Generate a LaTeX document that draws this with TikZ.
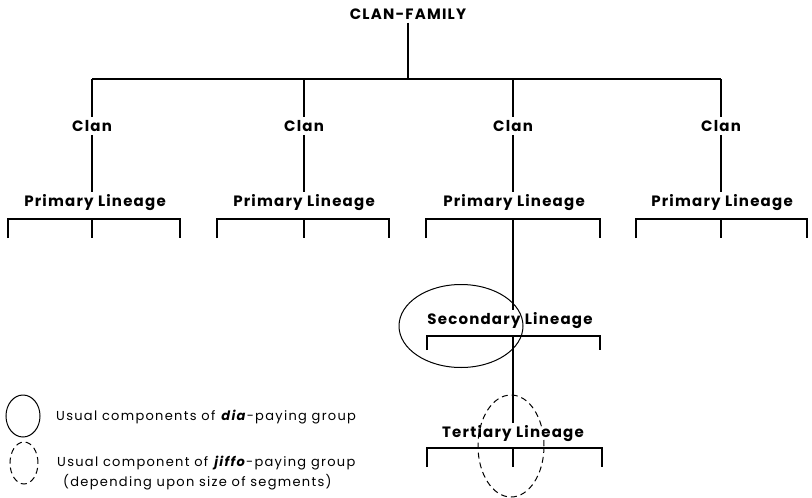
\documentclass[tikz,border=0pt]{standalone}
\usepackage{fontspec}
\setmainfont{Poppins}
\newfontfamily\labelfont[LetterSpace=8]{Poppins}
\newfontfamily\legendfont[LetterSpace=10]{Poppins}
\usetikzlibrary{shapes.geometric}
\tikzstyle{Edge}=[draw=black,line width=1.7pt]
\tikzstyle{NodeST}=[font=\fontsize{15}{17}\labelfont\bfseries,inner sep=3pt]
\tikzstyle{Legend}=[font=\fontsize{13}{15}\legendfont,anchor=west,inner sep=0pt]
\tikzstyle{DiaRing}=[draw,ellipse,line width=1pt,inner sep=0pt]
\tikzstyle{JiffoRing}=[DiaRing,dash pattern=on 6pt off 4pt]

\begin{document}
\begin{tikzpicture}[x=1pt,y=-1pt]
        \useasboundingbox(0,0)rectangle(812,498);
        % top of the tree
        \node[NodeST](cf)at(408,14){CLAN-FAMILY};
        \coordinate(c1top)at(92,79);
        \coordinate(c2top)at(304,79);
        \coordinate(c3top)at(513,79);
        \coordinate(c4top)at(721,79);
        \node[NodeST](c1)at(92,126){Clan};
        \node[NodeST](c2)at(304,126){Clan};
        \node[NodeST](c3)at(513,126){Clan};
        \node[NodeST](c4)at(721,126){Clan};
        \node[NodeST](pl1)at(95,203){Primary Lineage};
        \node[NodeST](pl2)at(304,203){Primary Lineage};
        \node[NodeST](pl3)at(514,203){Primary Lineage};
        \node[NodeST](pl4)at(722,203){Primary Lineage};
        \draw[Edge](cf)--(cf|-c1top);
        \draw[Edge](c1top)--(c4top);
        \draw[Edge](c1top)--(c1);
        \draw[Edge](c2top)--(c2);
        \draw[Edge](c3top)--(c3);
        \draw[Edge](c4top)--(c4);
        \draw[Edge](c1)--(pl1.north-|c1);
        \draw[Edge](c2)--(pl2.north-|c2);
        \draw[Edge](c3)--(pl3.north-|c3);
        \draw[Edge](c4)--(pl4.north-|c4);
        % primary brackets
        \coordinate(p1l)at(8,238);
        \coordinate(p1m)at(92,219);
        \coordinate(p1d)at(92,238);
        \coordinate(p1r)at(180,238);
        \coordinate(p2l)at(217,238);
        \coordinate(p2m)at(304,219);
        \coordinate(p2d)at(304,238);
        \coordinate(p2r)at(389,238);
        \coordinate(p3l)at(426,238);
        \coordinate(p3m)at(513,219);
        \coordinate(p3r)at(600,238);
        \coordinate(p4l)at(636,238);
        \coordinate(p4m)at(721,219);
        \coordinate(p4d)at(721,238);
        \coordinate(p4r)at(807,238);
        \draw[Edge](p1l)|-(p1m)-|(p1r);
        \draw[Edge](p1m)--(p1d);
        \draw[Edge](p2l)|-(p2m)-|(p2r);
        \draw[Edge](p2m)--(p2d);
        \draw[Edge](p3l)|-(p3m)-|(p3r);
        \draw[Edge](p4l)|-(p4m)-|(p4r);
        \draw[Edge](p4m)--(p4d);
        % secondary and tertiary
        \node[NodeST](sl)at(510,321){Secondary Lineage};
        \node[NodeST](tl)at(513,434){Tertiary Lineage};
        \draw[Edge](p3m)--(p3m|-sl.north);
        \coordinate(s1l)at(427,350);
        \coordinate(s1m)at(513,336);
        \coordinate(s1r)at(600,350);
        \draw[Edge](s1l)|-(s1m)-|(s1r);
        \draw[Edge](s1m)--(s1m|-tl.north);
        \coordinate(t1l)at(427,467);
        \coordinate(t1m)at(513,448);
        \coordinate(t1d)at(513,467);
        \coordinate(t1r)at(602,467);
        \draw[Edge](t1l)|-(t1m)-|(t1r);
        \draw[Edge](t1m)--(t1d);
        \node[DiaRing,minimum width=124pt,minimum height=83pt](dia)at(461,326){};
        \node[JiffoRing,minimum width=66pt,minimum height=102pt](jiffo)at(511,446){};
        % legend
        \node[DiaRing,minimum width=34pt,minimum height=42pt](kd)at(23,416){};
        \node[JiffoRing,minimum width=28pt,minimum height=42pt](kj)at(24,463){};
        \node[Legend](ld)at(56,417){Usual components of \textbf{\textit{dia}}-paying group};
        \node[Legend](lj)at(57,463){Usual component of \textbf{\textit{jiffo}}-paying group};
        \node[Legend](lj2)at(63,482){(depending upon size of segments)};
    \end{tikzpicture}
\end{document}
